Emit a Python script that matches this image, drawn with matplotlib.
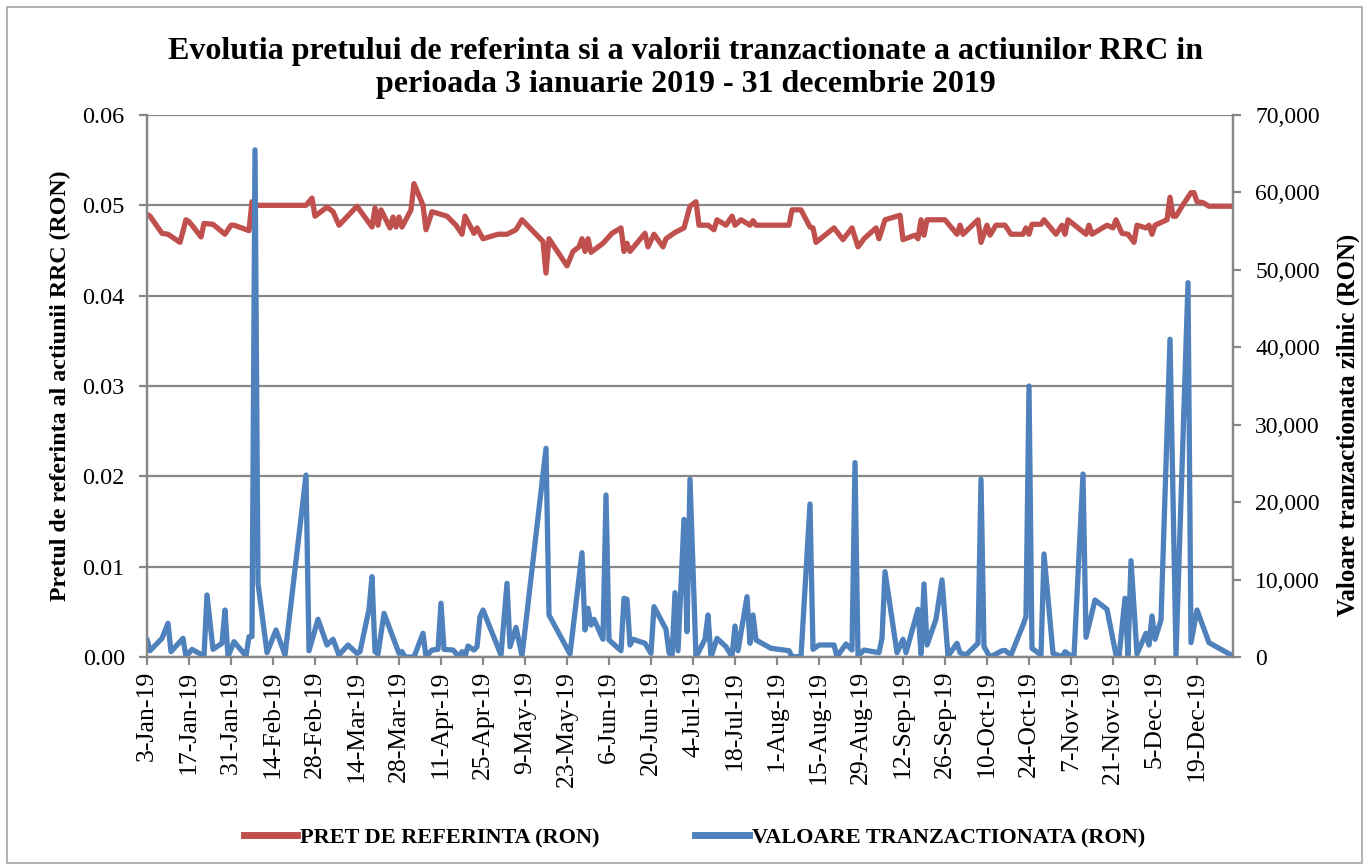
import pandas as pd
import numpy as np
import matplotlib
matplotlib.use('Agg')
import matplotlib.pyplot as plt
from matplotlib.patches import Rectangle
from matplotlib.lines import Line2D
from matplotlib.ticker import FuncFormatter, MultipleLocator

# pret de referinta (RON)
price_dates = ['01-03', '01-04', '01-08', '01-10', '01-14', '01-16', '01-17', '01-18', '01-21', '01-22',
               '01-25', '01-29', '01-31', '02-01', '02-06', '02-07', '02-08', '02-25', '02-27', '02-28',
               '03-04', '03-06', '03-08', '03-14', '03-19', '03-20', '03-21', '03-22', '03-25', '03-26',
               '03-27', '03-28', '03-29', '04-01', '04-02', '04-05', '04-06', '04-08', '04-11', '04-13',
               '04-16', '04-18', '04-19', '04-22', '04-23', '04-25', '04-30', '05-03', '05-06', '05-08',
               '05-15', '05-16', '05-17', '05-23', '05-25', '05-27', '05-28', '05-29', '05-30', '05-31',
               '06-04', '06-07', '06-10', '06-11', '06-12', '06-13', '06-18', '06-19', '06-21', '06-24',
               '06-25', '06-28', '07-01', '07-03', '07-05', '07-06', '07-09', '07-11', '07-12', '07-15',
               '07-17', '07-18', '07-20', '07-23', '07-24', '07-25', '08-05', '08-06', '08-09', '08-12',
               '08-13', '08-14', '08-20', '08-23', '08-26', '08-28', '08-30', '09-03', '09-04', '09-06',
               '09-11', '09-12', '09-16', '09-17', '09-18', '09-19', '09-20', '09-26', '09-30', '10-01',
               '10-02', '10-07', '10-08', '10-10', '10-11', '10-13', '10-16', '10-18', '10-22', '10-23',
               '10-24', '10-25', '10-28', '10-29', '11-02', '11-04', '11-05', '11-06', '11-12', '11-13',
               '11-14', '11-19', '11-21', '11-22', '11-24', '11-26', '11-28', '11-29', '12-02', '12-03',
               '12-04', '12-05', '12-09', '12-10', '12-11', '12-12', '12-14', '12-17', '12-18', '12-19',
               '12-21', '12-23', '12-31']
price_values = [0.0490, 0.0488, 0.0469, 0.0468, 0.0459, 0.0484, 0.0482, 0.0478, 0.0465, 0.0480,
                0.0479, 0.0468, 0.0478, 0.0478, 0.0472, 0.0504, 0.0500, 0.0500, 0.0508, 0.0488,
                0.0498, 0.0493, 0.0478, 0.0499, 0.0476, 0.0497, 0.0478, 0.0495, 0.0475, 0.0487,
                0.0476, 0.0487, 0.0476, 0.0495, 0.0524, 0.0500, 0.0473, 0.0493, 0.0490, 0.0488,
                0.0478, 0.0468, 0.0488, 0.0469, 0.0475, 0.0463, 0.0468, 0.0468, 0.0473, 0.0484,
                0.0460, 0.0425, 0.0463, 0.0433, 0.0449, 0.0454, 0.0463, 0.0449, 0.0463, 0.0448,
                0.0458, 0.0469, 0.0475, 0.0449, 0.0458, 0.0449, 0.0469, 0.0454, 0.0468, 0.0454,
                0.0463, 0.0470, 0.0475, 0.0499, 0.0504, 0.0478, 0.0478, 0.0473, 0.0484, 0.0478,
                0.0488, 0.0478, 0.0484, 0.0478, 0.0483, 0.0478, 0.0478, 0.0495, 0.0495, 0.0476,
                0.0475, 0.0459, 0.0475, 0.0462, 0.0475, 0.0454, 0.0463, 0.0475, 0.0463, 0.0484,
                0.0489, 0.0462, 0.0467, 0.0463, 0.0484, 0.0467, 0.0484, 0.0484, 0.0468, 0.0478,
                0.0468, 0.0484, 0.0459, 0.0478, 0.0467, 0.0478, 0.0478, 0.0468, 0.0468, 0.0475,
                0.0468, 0.0479, 0.0479, 0.0484, 0.0468, 0.0478, 0.0468, 0.0484, 0.0468, 0.0478,
                0.0468, 0.0478, 0.0475, 0.0484, 0.0469, 0.0468, 0.0459, 0.0478, 0.0475, 0.0478,
                0.0468, 0.0478, 0.0484, 0.0509, 0.0488, 0.0488, 0.0499, 0.0514, 0.0514, 0.0504,
                0.0503, 0.0499, 0.0499]

# valoare tranzactionata zilnic (RON)
value_dates = ['01-03', '01-04', '01-08', '01-10', '01-11', '01-15', '01-16', '01-18', '01-22', '01-23',
               '01-25', '01-28', '01-29', '01-30', '02-01', '02-05', '02-06', '02-07', '02-08', '02-09',
               '02-12', '02-15', '02-18', '02-25', '02-26', '03-01', '03-04', '03-06', '03-08', '03-11',
               '03-14', '03-15', '03-18', '03-19', '03-20', '03-21', '03-23', '03-28', '03-29', '03-30',
               '04-02', '04-05', '04-06', '04-08', '04-10', '04-11', '04-12', '04-15', '04-17', '04-18',
               '04-19', '04-20', '04-22', '04-23', '04-24', '04-25', '05-01', '05-03', '05-04', '05-06',
               '05-08', '05-16', '05-17', '05-24', '05-28', '05-29', '05-30', '05-31', '06-01', '06-04',
               '06-05', '06-06', '06-10', '06-11', '06-12', '06-13', '06-14', '06-18', '06-20', '06-21',
               '06-25', '06-26', '06-27', '06-28', '06-29', '07-01', '07-02', '07-03', '07-05', '07-08',
               '07-09', '07-10', '07-12', '07-15', '07-17', '07-18', '07-19', '07-22', '07-23', '07-24',
               '07-25', '07-30', '08-05', '08-06', '08-09', '08-12', '08-13', '08-15', '08-20', '08-21',
               '08-24', '08-26', '08-27', '08-28', '08-30', '09-04', '09-05', '09-06', '09-10', '09-12',
               '09-13', '09-17', '09-18', '09-19', '09-20', '09-23', '09-25', '09-27', '09-30', '10-01',
               '10-03', '10-07', '10-08', '10-09', '10-11', '10-15', '10-16', '10-18', '10-22', '10-23',
               '10-24', '10-25', '10-28', '10-29', '11-01', '11-04', '11-05', '11-07', '11-08', '11-11',
               '11-12', '11-15', '11-19', '11-22', '11-23', '11-25', '11-26', '11-27', '11-29', '12-02',
               '12-03', '12-04', '12-05', '12-07', '12-10', '12-12', '12-16', '12-17', '12-19', '12-23',
               '12-31']
value_ron = [2290, 810, 2410, 4350, 690, 2410, 40, 990, 130, 8010,
             990, 1770, 6070, 40, 1980, 130, 2630, 2630, 65500, 9520,
             560, 3490, 260, 23500, 810, 4870, 1550, 2290, 260, 1550,
             470, 690, 6160, 10370, 690, 390, 5640, 470, 690, 0,
             0, 3060, 40, 900, 990, 6950, 990, 900, 40, 690,
             40, 1420, 900, 1330, 5210, 6070, 260, 9520, 1330, 3830,
             130, 26950, 5420, 390, 13470, 3490, 6290, 4130, 4870, 2290,
             20920, 2200, 810, 7580, 7450, 1550, 2290, 1770, 470, 6500,
             3580, 560, 40, 8300, 810, 17780, 3270, 22950, 0, 2290,
             5420, 0, 2410, 1330, 40, 4000, 810, 7790, 1770, 5420,
             2200, 1120, 810, 40, 40, 19760, 990, 1550, 1550, 40,
             1680, 900, 25100, 130, 900, 560, 2410, 11020, 560, 2290,
             560, 6160, 390, 9430, 1550, 4870, 9950, 130, 1770, 560,
             260, 1770, 22950, 1330, 0, 810, 850, 260, 4130, 5210,
             35000, 1120, 260, 13300, 470, 40, 690, 130, 130, 23630,
             2540, 7360, 6160, 260, 40, 7580, 260, 12440, 390, 3060,
             1550, 5300, 2290, 4780, 41030, 260, 48340, 1850, 6070, 1850,
             130]

x_tick_labels = ['3-Jan-19', '17-Jan-19', '31-Jan-19', '14-Feb-19', '28-Feb-19', '14-Mar-19',
                 '28-Mar-19', '11-Apr-19', '25-Apr-19', '9-May-19', '23-May-19', '6-Jun-19',
                 '20-Jun-19', '4-Jul-19', '18-Jul-19', '1-Aug-19', '15-Aug-19', '29-Aug-19',
                 '12-Sep-19', '26-Sep-19', '10-Oct-19', '24-Oct-19', '7-Nov-19', '21-Nov-19',
                 '5-Dec-19', '19-Dec-19']

price_t = pd.to_datetime(['2019-' + d for d in price_dates])
value_t = pd.to_datetime(['2019-' + d for d in value_dates])
tick_t = pd.to_datetime(x_tick_labels, format='%d-%b-%y')

RED = '#C0504D'
BLUE = '#4F81BD'
GRID = '#878787'

plt.rcParams['font.family'] = ['Liberation Serif', 'DejaVu Serif']

fig = plt.figure(figsize=(13.65, 8.65), dpi=100)
W, H = 1365, 865
ax = fig.add_axes([147 / W, 1 - 657 / H, (1233 - 147) / W, (657 - 115) / H])
ax2 = ax.twinx()

ax.plot(price_t, price_values, color=RED, lw=3.8, solid_joinstyle='round', solid_capstyle='round')
ax2.plot(value_t, value_ron, color=BLUE, lw=3.8, solid_joinstyle='round', solid_capstyle='round')

ax.set_xlim(pd.Timestamp('2019-01-03'), pd.Timestamp('2019-12-31'))
ax.set_ylim(0, 0.06)
ax2.set_ylim(0, 70000)
ax.yaxis.set_major_locator(MultipleLocator(0.01))
ax.yaxis.set_major_formatter(FuncFormatter(lambda v, p: '%.2f' % v))
ax2.yaxis.set_major_locator(MultipleLocator(10000))
ax2.yaxis.set_major_formatter(FuncFormatter(lambda v, p: '{:,.0f}'.format(v)))

ax.set_xticks(tick_t)
ax.set_xticklabels(x_tick_labels, rotation=90)

ax.grid(axis='y', color=GRID, lw=1.6)
ax.set_axisbelow(True)
for a in (ax, ax2):
    for s in a.spines.values():
        s.set_color(GRID)
        s.set_linewidth(1.6)
    a.spines['top'].set_visible(False)
    a.tick_params(colors=GRID, labelcolor='black', length=6, width=1.6, labelsize=17.5)
ax.tick_params(axis='x', labelsize=18.5, pad=4)
ax.tick_params(axis='y', pad=10)
ax2.tick_params(axis='y', labelsize=17, pad=10)

axw = 1233 - 147
ax.set_ylabel('Pretul de referinta al actiunii RRC (RON)', fontsize=17.2, fontweight='bold')
ax.yaxis.label.set_va('center')
ax.yaxis.set_label_coords((60 - 147) / axw, 0.5)
ax2.set_ylabel('Valoare tranzactionata zilnic (RON)', fontsize=17.8, fontweight='bold')
ax2.yaxis.label.set_va('center')
ax2.yaxis.set_label_coords((1348 - 147) / axw, 1 - (425 - 115) / (657 - 115))

fig.text(686 / W, 1 - 68 / H,
         'Evolutia pretului de referinta si a valorii tranzactionate a actiunilor RRC in\n'
         'perioada 3 ianuarie 2019 - 31 decembrie 2019',
         ha='center', va='center', fontsize=23, fontweight='bold', linespacing=1.2)

handles = [Line2D([], [], color=RED, lw=5), Line2D([], [], color=BLUE, lw=5)]
fig.legend(handles, ['PRET DE REFERINTA (RON)', 'VALOARE TRANZACTIONATA (RON)'],
           loc='center', bbox_to_anchor=(694.5 / W, 1 - 838 / H), ncol=2, frameon=False,
           prop={'weight': 'bold', 'size': 16}, handlelength=2.4, handletextpad=0.15,
           columnspacing=4.3)

fig.add_artist(Rectangle((7 / W, 2 / H), (1362 - 7) / W, (858 - 2) / H, transform=fig.transFigure,
                         fill=False, edgecolor='#A6A6A6', lw=1.2))

fig.savefig('out.png', dpi=100)
